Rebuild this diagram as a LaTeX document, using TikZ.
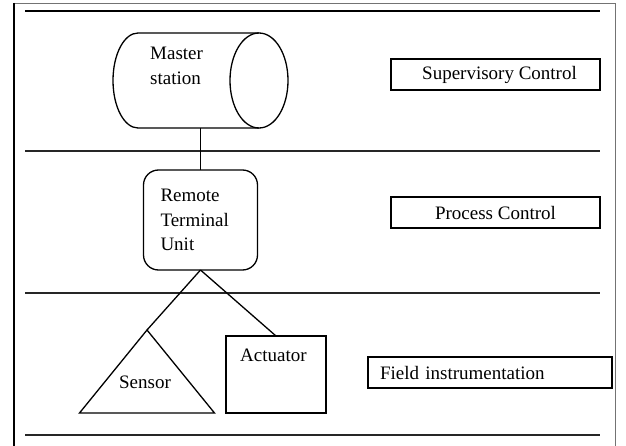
\documentclass[tikz,border=0pt]{standalone}
\usepackage{fontspec}
\setmainfont{Liberation Serif}
\usetikzlibrary{shapes.geometric}
\tikzset{
	level/.style={line width=1.2pt, color=black!85},
	tag/.style={draw, line width=2pt, minimum width=209pt, minimum height=31pt, inner sep=0pt},
	part/.style={draw, line width=1.3pt, inner sep=0pt, outer sep=0pt},
	words/.style={inner sep=0pt, align=left}
}

\begin{document}
\begin{tikzpicture}[x=1pt, y=-1pt, font=\fontsize{19}{24.5}\selectfont]
		%%%%% START %%%%%
		\useasboundingbox (0, 0) rectangle (626, 446);
		
		% frame
		\draw[line width=0.8pt, color=black!55] (14, 3) -- (615, 3) -- (615, 446);
		\draw[line width=1.6pt] (14, 3) -- (14, 446);
		
		% levels
		\draw[line width=2.2pt] (25, 11) -- (600, 11);
		\draw[level] (25, 151) -- (600, 151);
		\draw[level] (25, 293) -- (600, 293);
		\draw[level] (25, 435) -- (600, 435);
		
		% master station (drum drawn by hand)
		\node[inner sep=0pt, outer sep=0pt, minimum width=174pt, minimum height=95pt] (master) at (200.5, 80.5) {};
		\draw[line width=1.3pt] (259, 33) -- (138, 33) arc[start angle=270, end angle=90, x radius=25, y radius=47.5] -- (259, 128);
		\draw[line width=1.3pt] (259, 80.5) ellipse[x radius=29, y radius=47.5];
		\node[words, anchor=west] (mastertxt) at (150, 66) {Master\\station};
		
		% remote terminal unit
		\node[part, rounded corners=15pt, minimum width=114pt, minimum height=100pt, text width=80pt] (rtu) at (200.5, 220) {Remote\\Terminal\\Unit};
		
		% field devices
		\node[part, isosceles triangle, isosceles triangle stretches, shape border rotate=90, minimum height=83pt, minimum width=135pt, anchor=apex] (sensor) at (147, 330) {};
		\node[words] (sensortxt) at (145, 382) {Sensor};
		\node[part, minimum width=100pt, minimum height=77pt] (actuator) at (276, 374.5) {};
		\node[words, anchor=west] (actuatortxt) at (240, 355) {Actuator};
		
		\draw[line width=1.3pt] (master.south) -- (rtu.north);
		\draw[line width=1.3pt] (rtu.south) -- (sensor.apex);
		\draw[line width=1.3pt] (rtu.south) -- (actuator.north);
		
		% level names
		\node[tag] (sup) at (495.5, 74.5) {\hspace{8pt}Supervisory Control};
		\node[tag] (proc) at (495.5, 213) {Process Control};
		\node[tag, minimum width=244pt, text width=220pt, align=left] (field) at (490, 372.5) {Field instrumentation};
		
		%%%%% END %%%%%
	\end{tikzpicture}
\end{document}
